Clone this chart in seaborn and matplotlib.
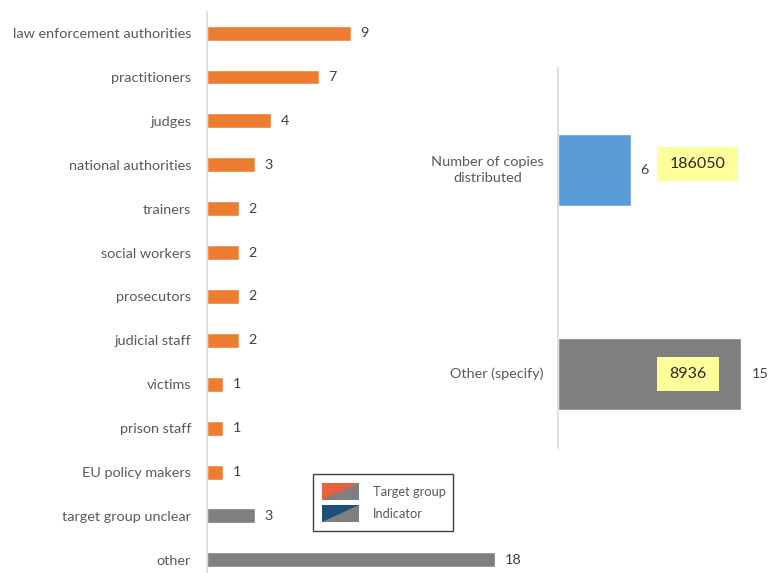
import matplotlib
matplotlib.use("Agg")
import matplotlib.pyplot as plt
import seaborn as sns
import pandas as pd
from matplotlib.patches import Polygon, Rectangle

# Target groups and counts
groups = ["law enforcement authorities", "practitioners", "judges", "national authorities",
          "trainers", "social workers", "prosecutors", "judicial staff", "victims",
          "prison staff", "EU policy makers", "target group unclear", "other"]
group_counts = [9, 7, 4, 3, 2, 2, 2, 2, 1, 1, 1, 3, 18]

# Indicators, counts and the reported totals
indicators = ["Number of copies\ndistributed", "Other (specify)"]
indicator_counts = [6, 15]
indicator_totals = [186050, 8936]

# Legend entries
legend_labels = ["Target group", "Indicator"]

ORANGE = "#ED7D31"
GREY = "#7F7F7F"
BLUE = "#5B9BD5"
TEXT = "#595959"
VALUE = "#404040"
SPINE = "#D9D9D9"
FS = 10.4

sns.set_theme(style="white")
plt.rcParams["font.family"] = ["Lato", "DejaVu Sans"]

fig = plt.figure(figsize=(7.68, 5.73), dpi=100)
W, H = 768, 573


def px_axes(x0, y0, x1, y1):
    return fig.add_axes([x0 / W, 1 - y1 / H, (x1 - x0) / W, (y1 - y0) / H])


def fx(x):
    return x / W


def fy(y):
    return 1 - y / H


# Left panel: target groups
ax1 = px_axes(207, 12, 520, 573)
df1 = pd.DataFrame({"group": groups, "count": group_counts})
pal1 = [GREY if g in ("target group unclear", "other") else ORANGE for g in groups]
sns.barplot(data=df1, y="group", x="count", hue="group", palette=pal1,
            legend=False, orient="h", width=0.34, ax=ax1, saturation=1)
ax1.set_xlim(0, 313 / 16)
ax1.set_ylim(12.3, -0.48)
for i, v in enumerate(group_counts):
    ax1.text(v + 0.6, i, str(v), va="center", ha="left", fontsize=FS, color=VALUE)

# Right panel: indicators
ax2 = px_axes(558, 68, 768, 448)
df2 = pd.DataFrame({"indicator": indicators, "count": indicator_counts})
sns.barplot(data=df2, y="indicator", x="count", hue="indicator", palette=[BLUE, GREY],
            legend=False, orient="h", width=0.353, ax=ax2, saturation=1)
ux = 12.2   # pixels per unit on the right panel
uy = 204.0  # pixels per category row on the right panel
ax2.set_xlim(0, 210 / ux)
ax2.set_ylim(1.363, -0.5)
ax2.text(indicator_counts[0] + 0.75, 0, str(indicator_counts[0]), va="center", ha="left",
         fontsize=FS, color=VALUE)
ax2.text(indicator_counts[1] + 0.85, 1, str(indicator_counts[1]), va="center", ha="left",
         fontsize=FS, color=VALUE)

# Category names, lines centred among themselves
ax2.set_yticks(range(len(indicators)))
ax2.set_yticklabels([])
for i, name in enumerate(indicators):
    ax2.text(-14 / ux, i, name, ha="right", va="center", multialignment="center",
             linespacing=1.35, fontsize=FS, color=TEXT, clip_on=False)

# Yellow callouts with the reported totals
box_left = [99 / ux, 99 / ux]
box_w = [81 / ux, 62 / ux]
box_dy = [-5.5 / uy, 0.5 / uy]
box_h = 34 / uy
for i, t in enumerate(indicator_totals):
    cy = i + box_dy[i]
    ax2.add_patch(Rectangle((box_left[i], cy - box_h / 2), box_w[i], box_h,
                            fc="#FFFF9A", ec="none", zorder=5, clip_on=False))
    ax2.text(box_left[i] + box_w[i] / 2, cy, str(t), ha="center", va="center",
             fontsize=11.5, color="#262626", zorder=6, clip_on=False)

for ax in (ax1, ax2):
    ax.set_xlabel("")
    ax.set_ylabel("")
    ax.set_xticks([])
    for s in ("top", "right", "bottom"):
        ax.spines[s].set_visible(False)
    ax.spines["left"].set_color(SPINE)
    ax.spines["left"].set_linewidth(1.2)
    ax.tick_params(axis="y", length=0, pad=11.5, labelsize=FS, labelcolor=TEXT)
    ax.patch.set_alpha(0)

# Legend box with diagonally split swatches
fig.add_artist(Rectangle((fx(313), fy(531)), fx(140), 57 / H, transform=fig.transFigure,
                         fc="white", ec="#404040", lw=1.0, zorder=10))
swatch_colors = ["#E8603C", "#1F4E79"]
swatch_tops = [483, 505]
for lab, col, top in zip(legend_labels, swatch_colors, swatch_tops):
    x0, x1, y0, y1 = 322, 359, top, top + 17
    fig.add_artist(Rectangle((fx(x0), fy(y1)), fx(x1 - x0), (y1 - y0) / H,
                             transform=fig.transFigure, fc=GREY, ec="none", zorder=11))
    fig.add_artist(Polygon([(fx(x0), fy(y1)), (fx(x0), fy(y0)), (fx(x1), fy(y0))],
                           closed=True, transform=fig.transFigure, fc=col, ec="none",
                           zorder=12))
    fig.text(fx(373), fy(top + 9), lab, ha="left", va="center", fontsize=9.3,
             color=TEXT, zorder=13)

fig.savefig("out.png", dpi=100)
